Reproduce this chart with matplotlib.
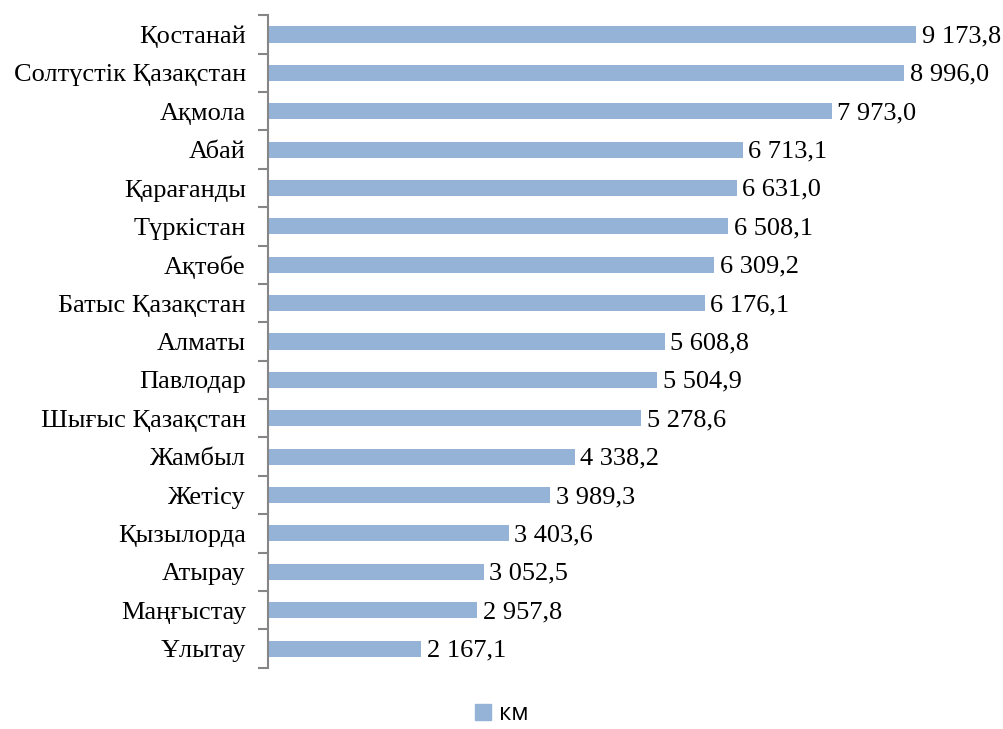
import numpy as np
import matplotlib.pyplot as plt
from matplotlib.patches import Patch

regions = ["Қостанай", "Солтүстік Қазақстан", "Ақмола", "Абай", "Қарағанды",
           "Түркістан", "Ақтөбе", "Батыс Қазақстан", "Алматы", "Павлодар",
           "Шығыс Қазақстан", "Жамбыл", "Жетісу", "Қызылорда", "Атырау",
           "Маңғыстау", "Ұлытау"]
values = [9173.8, 8996.0, 7973.0, 6713.1, 6631.0, 6508.1, 6309.2, 6176.1,
          5608.8, 5504.9, 5278.6, 4338.2, 3989.3, 3403.6, 3052.5, 2957.8, 2167.1]
series_name = "км"

bar_color = "#95B3D7"
axis_color = "#868686"


def fmt(v):
    s = f"{v:,.1f}"
    return s.replace(",", " ").replace(".", ",")


fig = plt.figure(figsize=(10.04, 7.29), dpi=100)
ax = fig.add_axes([0.267, 0.084, 0.704, 0.895])

y = np.arange(len(regions))
ax.barh(y, values, height=0.42, color=bar_color)
ax.set_ylim(len(regions) - 0.5, -0.5)
ax.set_xlim(0, 10000)

for yi, v in zip(y, values):
    ax.text(v + 80, yi + 0.05, fmt(v), va="center", ha="left",
            fontsize=19, family="Liberation Serif", color="black")

ax.set_yticks(y)
ax.set_yticklabels(regions, family="Liberation Serif", fontsize=19)
ax.tick_params(axis="y", which="major", length=0, pad=16)
ax.set_yticks(np.arange(len(regions) + 1) - 0.5, minor=True)
ax.tick_params(axis="y", which="minor", length=7, width=1.5, color=axis_color)
ax.set_xticks([])

for s in ["top", "right", "bottom"]:
    ax.spines[s].set_visible(False)
ax.spines["left"].set_color(axis_color)
ax.spines["left"].set_linewidth(1.5)

fig.legend(handles=[Patch(color=bar_color, label=series_name)],
           loc="center", bbox_to_anchor=(0.5, 0.02), frameon=False,
           prop={"family": "Open Sans", "size": 17},
           handlelength=0.65, handleheight=0.65, handletextpad=0.35,
           borderpad=0.1)

fig.savefig("out.png", dpi=100)
